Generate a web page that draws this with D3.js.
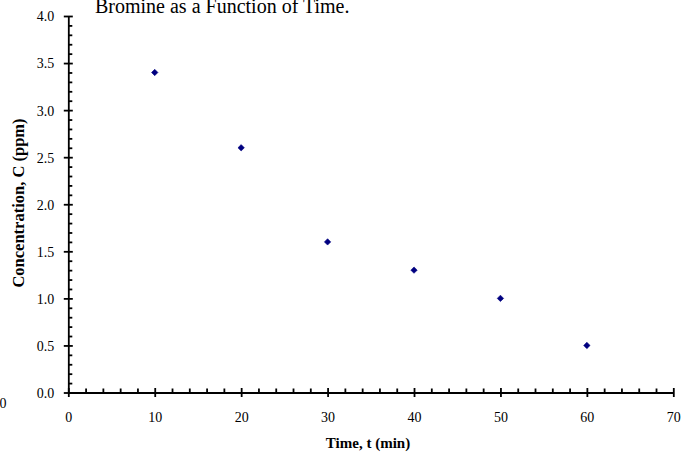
<!DOCTYPE html>
<html><head><meta charset="utf-8">
<script src="https://cdn.jsdelivr.net/npm/d3@7"></script>
<style>body{margin:0;background:#fff}svg{display:block}</style>
</head><body>
<script>
const times = [10, 20, 30, 40, 50, 60];
const concentrations = [3.4, 2.6, 1.6, 1.3, 1.0, 0.5];
const xTickValues = [0, 10, 20, 30, 40, 50, 60, 70];
const yTickValues = [0, 0.5, 1.0, 1.5, 2.0, 2.5, 3.0, 3.5, 4.0];
const titleText = "Bromine as a Function of Time.";
const xLabel = "Time, t (min)";
const yLabel = "Concentration, C (ppm)";

const W = 682, H = 452;
const svg = d3.select("body").append("svg").attr("width", W).attr("height", H);
const x = d3.scaleLinear().domain([0, 70]).range([68.3, 673.3]);
const y = d3.scaleLinear().domain([0, 4]).range([392.5, 16]);
const serif = "'Liberation Serif','Times New Roman',serif";

// title
svg.append("text").attr("x", 95).attr("y", 13)
  .attr("font-family", serif).attr("font-size", 20).text(titleText);

// stray label
svg.append("text").attr("x", 6.5).attr("y", 407.5).attr("text-anchor", "end")
  .attr("font-family", serif).attr("font-size", 14).text("0");

// minor ticks
const xMinor = d3.range(0, 70.001, 2).filter(v => v % 10 !== 0);
const yMinor = d3.range(0, 40.001, 1).map(v => v / 10).filter(v => Math.abs(v * 2 - Math.round(v * 2)) > 1e-6);

const xAxis = svg.append("g").attr("transform", `translate(0,${y(0)})`)
  .call(d3.axisBottom(x).tickValues(xTickValues).tickFormat(d3.format("d")).tickSizeInner(4.5).tickSizeOuter(0));
xAxis.selectAll(".tick line").attr("y1", -4.5);
const xMin = svg.append("g").attr("transform", `translate(0,${y(0)})`)
  .call(d3.axisTop(x).tickValues(xMinor).tickFormat("").tickSizeInner(4).tickSizeOuter(0));
xMin.select(".domain").remove();

const yAxis = svg.append("g").attr("transform", `translate(${x(0)},0)`)
  .call(d3.axisLeft(y).tickValues(yTickValues).tickFormat(d3.format(".1f")).tickSizeInner(4.5).tickSizeOuter(0));
yAxis.selectAll(".tick line").attr("x1", 4.5);
const yMin = svg.append("g").attr("transform", `translate(${x(0)},0)`)
  .call(d3.axisRight(y).tickValues(yMinor).tickFormat("").tickSizeInner(4).tickSizeOuter(0));
yMin.select(".domain").remove();

svg.selectAll(".domain, .tick line").attr("stroke", "#000").attr("stroke-width", 1.8);
xAxis.selectAll(".tick text").attr("font-family", serif).attr("font-size", 14).attr("fill", "#000").attr("dy", null).attr("y", 29);
yAxis.selectAll(".tick text").attr("font-family", serif).attr("font-size", 14).attr("fill", "#000").attr("x", -14).attr("dy", "0.35em");

// axis titles
svg.append("text").attr("x", 368).attr("y", 448).attr("text-anchor", "middle")
  .attr("font-family", serif).attr("font-weight", "bold").attr("font-size", 15).text(xLabel);
svg.append("text").attr("transform", `translate(23.5,203) rotate(-90)`).attr("text-anchor", "middle")
  .attr("font-family", serif).attr("font-weight", "bold").attr("font-size", 16.5).text(yLabel);

// points
svg.append("g").selectAll("path").data(times).join("path")
  .attr("transform", (d, i) => `translate(${x(d)},${y(concentrations[i])})`)
  .attr("d", d3.symbol(d3.symbolDiamond2, 26)())
  .attr("fill", "#000080").attr("stroke", "#000080").attr("stroke-width", 0.6);
</script>
</body></html>
